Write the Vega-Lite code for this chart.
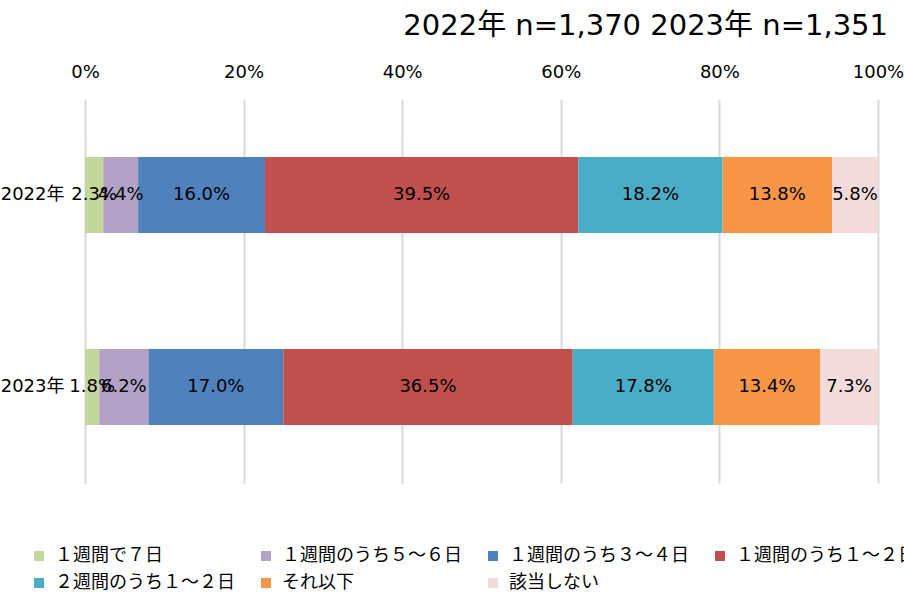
{
  "$schema": "https://vega.github.io/schema/vega-lite/v6.json",
  "autosize": "none",
  "padding": {"left": 85, "top": 99, "right": 26, "bottom": 110},
  "width": 793,
  "height": 384,
  "background": "white",
  "config": {
    "font": "DejaVu Sans, Noto Sans CJK JP",
    "view": {"stroke": null}
  },
  "title": {
    "text": "2022年 n=1,370 2023年 n=1,351",
    "anchor": "end",
    "frame": "group",
    "fontSize": 29,
    "fontWeight": "normal",
    "color": "#000000",
    "dx": 10,
    "offset": 22
  },
  "data": {
    "values": [
      {"year": "2022年", "cat": "１週間で７日", "order": 1, "pct": 0.023},
      {"year": "2022年", "cat": "１週間のうち５～６日", "order": 2, "pct": 0.044},
      {"year": "2022年", "cat": "１週間のうち３～４日", "order": 3, "pct": 0.160},
      {"year": "2022年", "cat": "１週間のうち１～２日", "order": 4, "pct": 0.395},
      {"year": "2022年", "cat": "２週間のうち１～２日", "order": 5, "pct": 0.182},
      {"year": "2022年", "cat": "それ以下", "order": 6, "pct": 0.138},
      {"year": "2022年", "cat": "該当しない", "order": 7, "pct": 0.058},
      {"year": "2023年", "cat": "１週間で７日", "order": 1, "pct": 0.018},
      {"year": "2023年", "cat": "１週間のうち５～６日", "order": 2, "pct": 0.062},
      {"year": "2023年", "cat": "１週間のうち３～４日", "order": 3, "pct": 0.170},
      {"year": "2023年", "cat": "１週間のうち１～２日", "order": 4, "pct": 0.365},
      {"year": "2023年", "cat": "２週間のうち１～２日", "order": 5, "pct": 0.178},
      {"year": "2023年", "cat": "それ以下", "order": 6, "pct": 0.134},
      {"year": "2023年", "cat": "該当しない", "order": 7, "pct": 0.073}
    ]
  },
  "transform": [
    {"stack": "pct", "groupby": ["year"], "sort": [{"field": "order", "order": "ascending"}], "as": ["x0", "x1"]},
    {"calculate": "(datum.x0 + datum.x1) / 2", "as": "xmid"}
  ],
  "encoding": {
    "y": {
      "field": "year",
      "type": "nominal",
      "scale": {"paddingInner": 0.604, "paddingOuter": 0.302},
      "axis": {
        "title": null,
        "domain": false,
        "ticks": false,
        "labelFontSize": 18,
        "labelColor": "#000000",
        "labelPadding": 21
      }
    }
  },
  "layer": [
    {
      "mark": {"type": "bar"},
      "encoding": {
        "x": {
          "field": "x0",
          "type": "quantitative",
          "scale": {"domain": [0, 1], "nice": false},
          "axis": {
            "orient": "top",
            "title": null,
            "format": ".0%",
            "values": [0, 0.2, 0.4, 0.6, 0.8, 1],
            "domain": false,
            "ticks": false,
            "labelFontSize": 18,
            "labelColor": "#000000",
            "labelPadding": 18,
            "labelFlush": false,
            "grid": true,
            "gridColor": "#d9d9d9",
            "gridWidth": 2
          }
        },
        "x2": {"field": "x1"},
        "color": {
          "field": "cat",
          "type": "nominal",
          "sort": ["１週間で７日", "１週間のうち５～６日", "１週間のうち３～４日", "１週間のうち１～２日", "２週間のうち１～２日", "それ以下", "該当しない"],
          "scale": {
            "domain": ["１週間で７日", "１週間のうち５～６日", "１週間のうち３～４日", "１週間のうち１～２日", "２週間のうち１～２日", "それ以下", "該当しない"],
            "range": ["#C3D69B", "#B3A2C7", "#4F81BD", "#C0504D", "#4BACC6", "#F79646", "#F2DCDB"]
          },
          "legend": {
            "title": null,
            "orient": "none",
            "legendX": -55,
            "legendY": 448,
            "direction": "horizontal",
            "columns": 4,
            "gridAlign": "all",
            "symbolType": "square",
            "symbolSize": 100,
            "symbolStrokeWidth": 0,
            "labelFontSize": 18,
            "labelColor": "#000000",
            "labelLimit": 400,
            "labelOffset": 7,
            "columnPadding": 22,
            "rowPadding": 9
          }
        }
      }
    },
    {
      "mark": {"type": "text", "fontSize": 18, "color": "#000000"},
      "encoding": {
        "x": {"field": "xmid", "type": "quantitative"},
        "text": {"field": "pct", "type": "quantitative", "format": ".1%"}
      }
    }
  ]
}
